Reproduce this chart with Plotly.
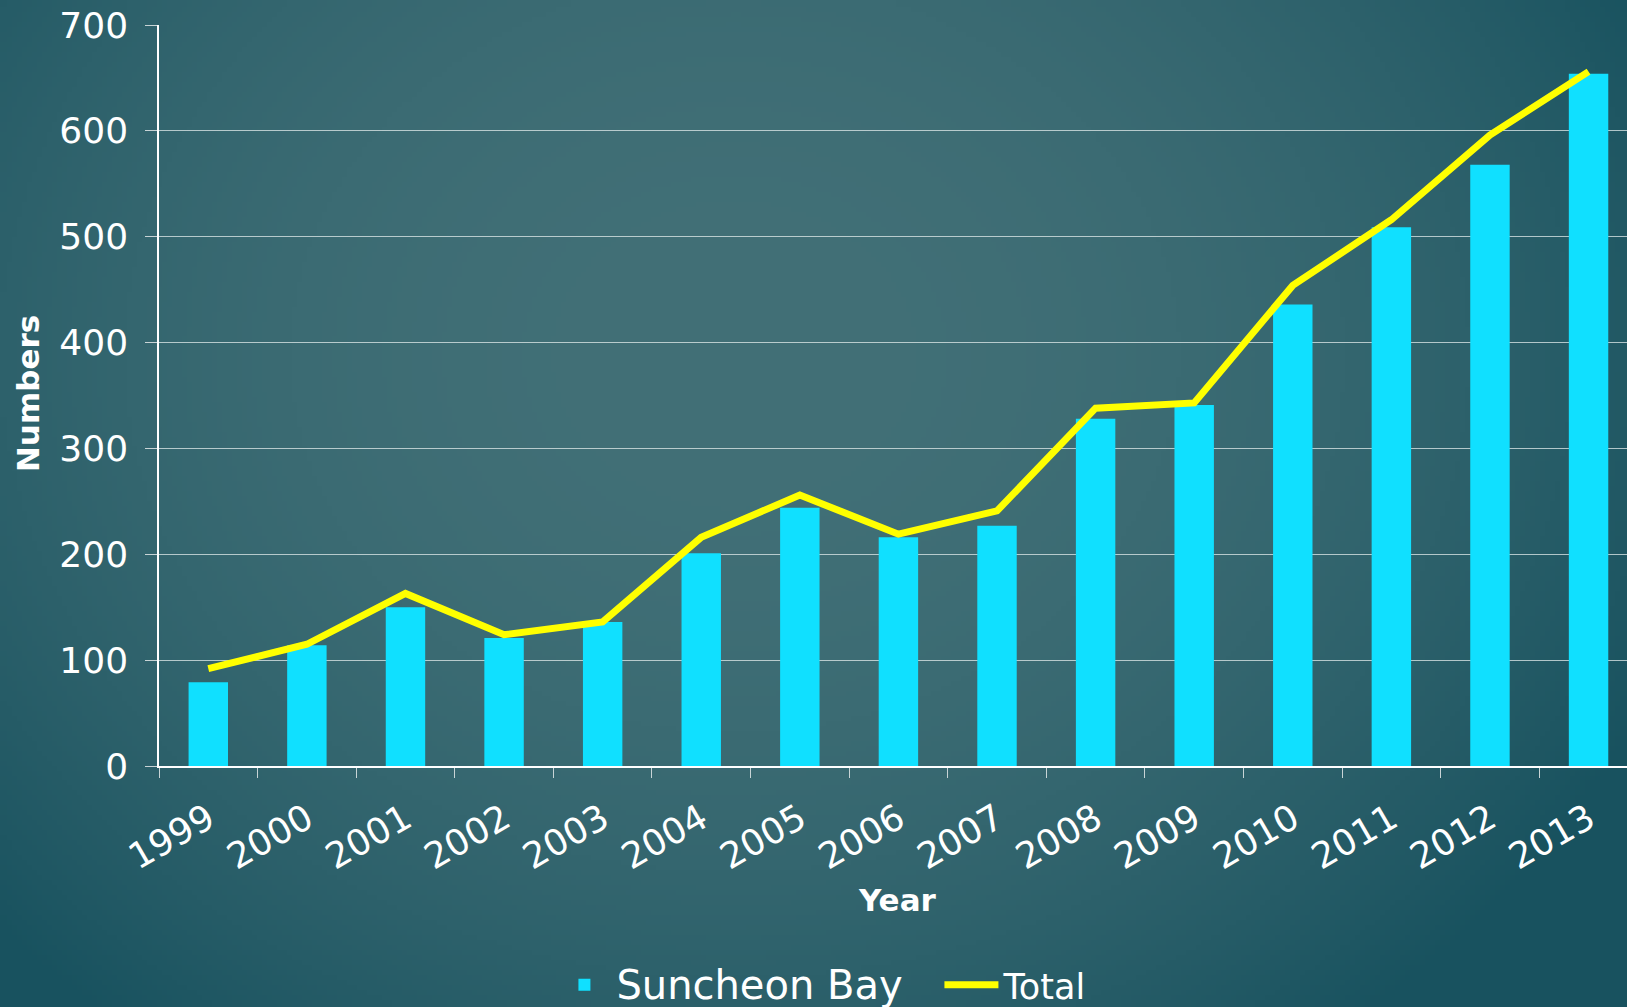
import base64
import struct
import zlib

import numpy as np
import plotly.graph_objects as go

years = ["1999", "2000", "2001", "2002", "2003", "2004", "2005", "2006",
         "2007", "2008", "2009", "2010", "2011", "2012", "2013"]
suncheon_bay = [79, 114, 150, 121, 136, 201, 244, 216, 227, 328, 341, 436, 509, 568, 654]
total = [92, 115, 163, 124, 136, 216, 256, 219, 241, 338, 343, 454, 516, 596, 656]
y_ticks = [0, 100, 200, 300, 400, 500, 600, 700]

W, H = 1627, 1007
L, T, B = 159, 25, 241


def gradient_png(w, h):
    """Radial teal vignette used as the slide-like background."""
    yy, xx = np.mgrid[0:h, 0:w]
    cx, cy = 0.45 * w, 0.35 * h
    t = np.sqrt(((xx - cx) / (0.62 * w)) ** 2 + ((yy - cy) / (0.85 * h)) ** 2)
    t = np.clip(t, 0, 1) ** 2.2
    c0 = np.array([66, 112, 119], dtype=float)
    c1 = np.array([24, 82, 95], dtype=float)
    img = (c0[None, None, :] * (1 - t[..., None]) + c1[None, None, :] * t[..., None]).astype(np.uint8)
    raw = b"".join(b"\x00" + img[r].tobytes() for r in range(h))

    def chunk(tag, data):
        c = struct.pack(">I", len(data)) + tag + data
        return c + struct.pack(">I", zlib.crc32(tag + data) & 0xFFFFFFFF)

    png = b"\x89PNG\r\n\x1a\n" + chunk(b"IHDR", struct.pack(">IIBBBBB", w, h, 8, 2, 0, 0, 0))
    png += chunk(b"IDAT", zlib.compress(raw, 9)) + chunk(b"IEND", b"")
    return "data:image/png;base64," + base64.b64encode(png).decode()


bg = gradient_png(326, 202)

fig = go.Figure()
fig.add_trace(go.Bar(
    x=years, y=suncheon_bay,
    name='<span style="font-size:40px">Suncheon Bay</span>',
    marker=dict(color="#10e0ff", line=dict(width=0)),
    width=0.4,
))
fig.add_trace(go.Scatter(
    x=years, y=total, mode="lines",
    name='<span style="font-size:35px">Total</span>',
    line=dict(color="#ffff00", width=7),
))

tickfont = dict(family="DejaVu Sans", size=36, color="white")

fig.update_layout(
    width=W, height=H, autosize=False,
    margin=dict(l=L, r=0, t=T, b=B, autoexpand=False),
    paper_bgcolor="#2f6670",
    plot_bgcolor="rgba(0,0,0,0)",
    images=[dict(source=bg, xref="paper", yref="paper",
                 x=-L / (W - L), y=1 + T / (H - T - B),
                 sizex=W / (W - L), sizey=H / (H - T - B),
                 xanchor="left", yanchor="top", sizing="stretch", layer="below")],
    showlegend=True,
    legend=dict(orientation="h", x=0.268, xanchor="left", y=-0.2955, yanchor="middle",
                font=dict(family="DejaVu Sans", size=36, color="white"),
                bgcolor="rgba(0,0,0,0)", itemwidth=54, traceorder="normal",
                entrywidthmode="pixels", entrywidth=318),
    xaxis=dict(
        type="category", range=[-0.5, 14.39],
        tickson="boundaries", ticks="outside", ticklen=10, tickcolor="#c8d4d6",
        tickangle=-30, tickfont=tickfont, ticklabelstandoff=16,
        showgrid=False, showline=True, linecolor="white", linewidth=1.5,
        zeroline=False, automargin=False,
    ),
    yaxis=dict(
        range=[0, 700], tickvals=y_ticks, ticks="outside", ticklen=12,
        tickcolor="#c8d4d6", tickfont=tickfont, ticklabelstandoff=10,
        showgrid=True, gridcolor="rgba(225,235,235,0.75)", gridwidth=1,
        showline=True, linecolor="white", linewidth=1.5, zeroline=False,
        automargin=False,
    ),
    annotations=[
        dict(text="Year", xref="paper", yref="paper", x=0.503, y=-0.181,
             xanchor="center", yanchor="middle", showarrow=False,
             font=dict(family="DejaVu Sans", size=31, color="white", weight="bold")),
        dict(text="Numbers", xref="paper", yref="paper", x=-0.0892, y=0.502,
             xanchor="center", yanchor="middle", showarrow=False, textangle=-90,
             font=dict(family="DejaVu Sans", size=31, color="white", weight="bold")),
    ],
    bargap=0.6,
)

fig.write_html(
    "out.html",
    config={"displayModeBar": False, "responsive": False},
    post_script=(
        "document.documentElement.style.margin='0';"
        "document.documentElement.style.overflow='hidden';"
        "document.documentElement.style.background='#1c5462';"
        "document.body.style.margin='0';"
        "document.body.style.overflow='hidden';"
        "document.body.style.background='#1c5462';"
    ),
)
